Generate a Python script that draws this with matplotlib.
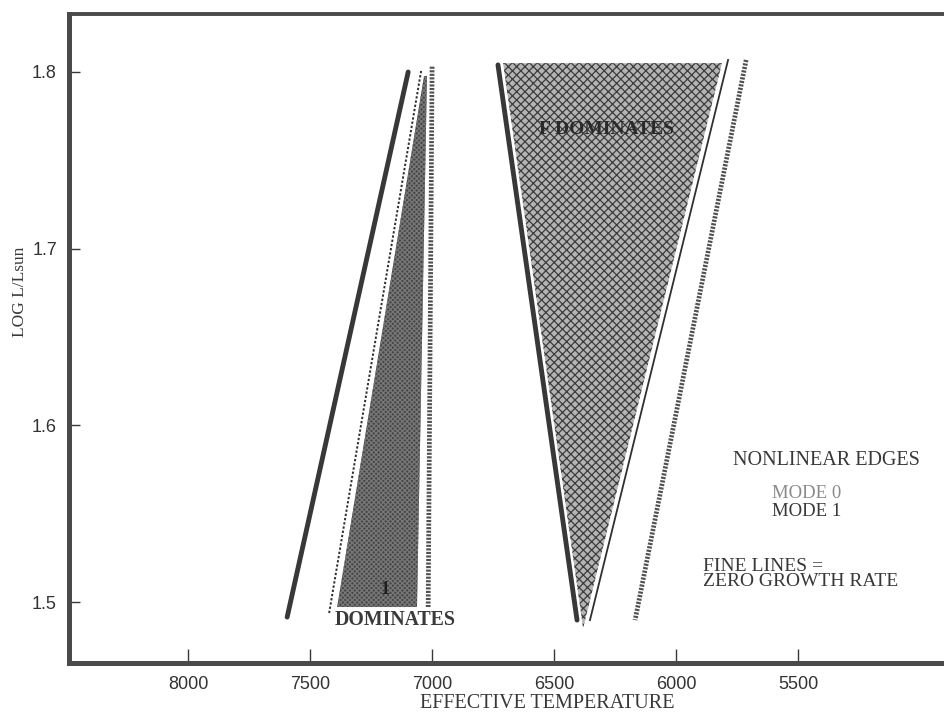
import matplotlib
matplotlib.use("Agg")
import matplotlib.pyplot as plt

# ---- data (Teff in K, log L/Lsun) ----
# left strip
m1_edge_T = [7098, 7594]
m1_edge_L = [1.800, 1.4915]
m0_zero_T = [7045, 7422]
m0_zero_L = [1.8006, 1.4938]
dom1_T = [7033, 7021, 7062, 7389]
dom1_L = [1.7977, 1.7977, 1.4972, 1.4972]
m0_edgeA_T = [7000, 7016]
m0_edgeA_L = [1.803, 1.4972]
# right strip
m1_red_T = [6730, 6406]
m1_red_L = [1.804, 1.4898]
domF_T = [6709, 5812, 6381]
domF_L = [1.805, 1.805, 1.4853]
zero_red_T = [5787, 6353]
zero_red_L = [1.8068, 1.4898]
m0_red_T = [5713, 6168]
m0_red_L = [1.8068, 1.4898]

xticks = [8000, 7500, 7000, 6500, 6000, 5500]
yticks = [1.5, 1.6, 1.7, 1.8]
ytick_labels = ["1.5", "1.6", "1.7", "1.8"]

ink = "#383838"
serif = "Liberation Serif"

plt.rcParams["hatch.linewidth"] = 0.9

fig = plt.figure(figsize=(9.45, 7.16), dpi=100)
ax = fig.add_axes([69.5 / 945, 1 - 662.5 / 716, 1 - 69.5 / 945, (662.5 - 13.5) / 716])
ax.set_xlim(8486, 4898)
ax.set_ylim(1.4658, 1.8331)

# shaded regions
ax.fill(dom1_T, dom1_L, facecolor="#474747", edgecolor="#777777",
        hatch="xxxxxxx", linewidth=0)
ax.fill(domF_T, domF_L, facecolor="#b4b4b4", edgecolor="#3c3c3c",
        hatch="xxxx", linewidth=0)

# thick solid (mode 1 nonlinear edges)
ax.plot(m1_edge_T, m1_edge_L, color="#383838", lw=3.5, solid_capstyle="round")
ax.plot(m1_red_T, m1_red_L, color="#383838", lw=3.5, solid_capstyle="round")
# thick dotted (mode 0 nonlinear edges)
for T, L in [(m0_edgeA_T, m0_edgeA_L), (m0_red_T, m0_red_L)]:
    ax.plot(T, L, color="#505050", lw=3.4, linestyle=(0, (0.45, 0.3)),
            dash_capstyle="butt")
# fine lines (zero growth rate)
ax.plot(m0_zero_T, m0_zero_L, color="#303030", lw=1.4, linestyle=(0, (1.2, 1.0)))
ax.plot(zero_red_T, zero_red_L, color="#303030", lw=1.3)

# labels inside
ax.text(6285, 1.7677, "F DOMINATES", family=serif, weight="bold", fontsize=14,
        color="#2a2a2a", ha="center", va="center")
ax.text(7193, 1.5069, "1", family=serif, weight="bold", fontsize=13,
        color="#1e1e1e", ha="center", va="center")
ax.text(7152, 1.4899, "DOMINATES", family=serif, weight="bold", fontsize=14.3,
        color="#3a3a3a", ha="center", va="center")

ax.text(5385, 1.5799, "NONLINEAR EDGES", family=serif, fontsize=14.5,
        color=ink, ha="center", va="center")
ax.text(5607, 1.5612, "MODE 0", family=serif, fontsize=13.5,
        color="#8a8a8a", ha="left", va="center")
ax.text(5607, 1.5510, "MODE 1", family=serif, fontsize=13.5,
        color=ink, ha="left", va="center")
ax.text(5890, 1.5157, "FINE LINES =\nZERO GROWTH RATE", family=serif, fontsize=14,
        color=ink, ha="left", va="center", linespacing=0.82)

# axes styling
for s, w in [("left", 3.6), ("bottom", 3.6), ("top", 2.8)]:
    ax.spines[s].set_linewidth(w)
    ax.spines[s].set_color("#4a4a4a")
ax.spines["right"].set_visible(False)

ax.set_xticks(xticks)
ax.set_xticklabels([str(t) for t in xticks])
ax.set_yticks(yticks)
ax.set_yticklabels(ytick_labels)
ax.tick_params(axis="x", direction="in", length=10, width=1.0, color=ink,
               pad=10, labelsize=13, labelcolor="#333333", top=False)
ax.tick_params(axis="y", direction="in", length=8, width=1.0, color=ink,
               pad=9, labelsize=13, labelcolor="#333333", right=False)
for lab in ax.get_xticklabels() + ax.get_yticklabels():
    lab.set_family("Liberation Sans")

fig.text(547 / 945, 1 - 704 / 716, "EFFECTIVE TEMPERATURE", family=serif,
         fontsize=14.5, color=ink, ha="center", va="center")
fig.text(20 / 945, 1 - 292 / 716, "LOG L/Lsun", family=serif, fontsize=12.5,
         color=ink, ha="center", va="center", rotation=90)

fig.savefig("out.png", dpi=100)
